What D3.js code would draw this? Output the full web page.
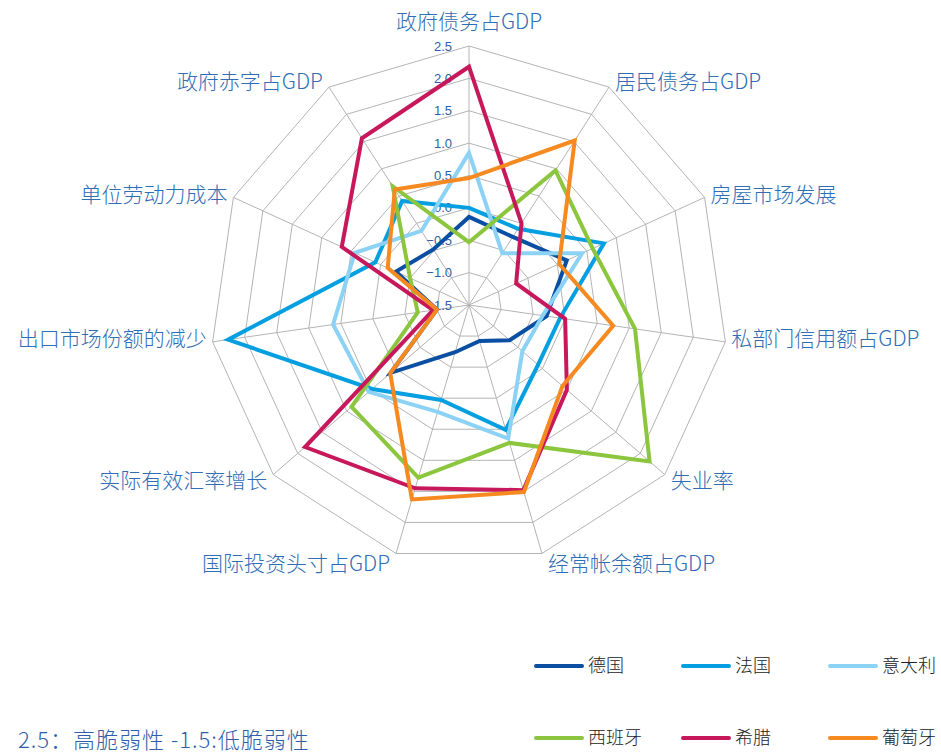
<!DOCTYPE html>
<html>
<head>
<meta charset="utf-8">
<script src="https://cdn.jsdelivr.net/npm/d3@7"></script>
<style>
  html, body { margin: 0; padding: 0; background: #fff; }
  svg { display: block; }
  .axis-label { font-family: "Noto Sans CJK SC", "Liberation Sans", sans-serif; font-weight: 300; font-size: 21px; fill: #2f6db5; }
  .tick-label { font-family: "Liberation Sans Narrow", "Liberation Sans", Arial, sans-serif; font-size: 13px; fill: #2f5ea8; }
  .legend-label { font-family: "Noto Sans CJK SC", sans-serif; font-weight: 300; font-size: 18px; fill: #222; }
  .note { font-family: "Noto Sans CJK SC", sans-serif; font-weight: 300; font-size: 22px; fill: #2f5ea8; letter-spacing: 1px; }
</style>
</head>
<body>
<svg width="941" height="753"></svg>
<script>
// data
const dimensions = ['政府债务占GDP', '居民债务占GDP', '房屋市场发展', '私部门信用额占GDP', '失业率',
    '经常帐余额占GDP', '国际投资头寸占GDP', '实际有效汇率增长', '出口市场份额的减少', '单位劳动力成本', '政府赤字占GDP'];
const countries = ['德国', '法国', '意大利', '西班牙', '希腊', '葡萄牙'];
const germany  = [-0.14, -0.25, 0.16, -0.29, -0.67, -0.92, -0.74, 0.10, -1.00, -0.26, -0.48];
const france   = [0.00, -0.10, 0.79, -0.08, -0.09, 0.51, 0.03, 0.48, 2.26, 0.09, 0.41];
const italy    = [0.85, -0.55, 0.42, -0.35, -0.41, 0.65, 0.22, 0.55, 0.62, 0.44, -0.14];
const spain    = [-0.53, 0.97, 0.60, 1.09, 2.19, 0.72, 1.28, 0.90, -0.70, -0.50, 0.68];
const greece   = [2.18, 0.00, -0.70, 0.00, 0.50, 1.48, 1.45, 1.85, -0.94, 0.66, 1.56];
const portugal = [0.46, 1.52, 0.03, 0.75, 0.41, 1.51, 1.63, 0.11, -1.00, -0.12, 0.62];
const ticks = [-1.5, -1.0, -0.5, 0.0, 0.5, 1.0, 1.5, 2.0, 2.5];
const note = '2.5：高脆弱性 -1.5:低脆弱性';

const seriesValues = [germany, france, italy, spain, greece, portugal];
const colors = ['#0b4fa3', '#039fe0', '#8bd2f4', '#8cc63e', '#c7185c', '#f6891f'];

function draw() {
    const svg = d3.select('svg');
    const cx = 469, cy = 305, R = 259;
    const n = dimensions.length;
    const r = d3.scaleLinear().domain([-1.5, 2.5]).range([0, R]);
    const angle = d3.scaleLinear().domain([0, n]).range([0, 2 * Math.PI]);
    const pt = (i, v) => [Math.sin(angle(i)) * r(v), -Math.cos(angle(i)) * r(v)];

    const g = svg.append('g').attr('transform', `translate(${cx},${cy})`);

    // grid rings
    const grid = g.append('g').attr('class', 'grid');
    grid.selectAll('polygon')
        .data(ticks.slice(1))
        .enter().append('polygon')
        .attr('points', t => d3.range(n).map(i => pt(i, t).join(',')).join(' '))
        .style('fill', 'none').style('stroke', '#b4b4b4').style('stroke-width', 1);
    grid.selectAll('line')
        .data(d3.range(n))
        .enter().append('line')
        .attr('x1', 0).attr('y1', 0)
        .attr('x2', i => pt(i, 2.5)[0]).attr('y2', i => pt(i, 2.5)[1])
        .style('stroke', '#b4b4b4').style('stroke-width', 1);

    // tick labels along top axis
    g.append('g').selectAll('text')
        .data(ticks)
        .enter().append('text')
        .attr('class', 'tick-label')
        .attr('x', -17)
        .attr('y', t => -r(t))
        .attr('dy', '0.35em')
        .attr('text-anchor', 'end')
        .text(t => d3.format('.1f')(t));

    // axis labels
    g.append('g').selectAll('text')
        .data(dimensions)
        .enter().append('text')
        .attr('class', 'axis-label')
        .attr('x', (d, i) => {
            const [x] = pt(i, 2.5);
            if (i === 0) return x;
            return x + (x > 0 ? 6 : -6);
        })
        .attr('y', (d, i) => {
            const [, y] = pt(i, 2.5);
            if (i === 0) return y - 24;
            if (i === 5 || i === 6) return y + 10;
            if (i === 4 || i === 7) return y + 6;
            if (i === 1 || i === 10) return y - 5;
            return y - 3;
        })
        .attr('dy', '0.35em')
        .attr('text-anchor', (d, i) => i === 0 ? 'middle' : (pt(i, 2.5)[0] > 0 ? 'start' : 'end'))
        .text(d => d);

    // series
    const line = d3.lineRadial()
        .angle((d, i) => angle(i))
        .radius(d => r(d))
        .curve(d3.curveLinearClosed);
    g.append('g').selectAll('path')
        .data(seriesValues)
        .enter().append('path')
        .attr('d', d => line(d))
        .style('fill', 'none')
        .style('stroke', (d, i) => colors[i])
        .style('stroke-width', 4)
        .style('stroke-linejoin', 'miter');

    // legend
    const legend = svg.append('g').selectAll('g')
        .data(countries)
        .enter().append('g')
        .attr('transform', (d, i) => `translate(${536 + (i % 3) * 147},${i < 3 ? 666 : 738})`);
    legend.append('line')
        .attr('x1', 0).attr('x2', 46).attr('y1', 0).attr('y2', 0)
        .style('stroke', (d, i) => colors[i])
        .style('stroke-width', 4)
        .style('stroke-linecap', 'round');
    legend.append('text')
        .attr('class', 'legend-label')
        .attr('x', 52).attr('y', 0).attr('dy', '0.35em')
        .text(d => d);

    svg.append('text')
        .attr('class', 'note')
        .attr('x', 18).attr('y', 748)
        .text(note);
}

draw();
</script>
</body>
</html>
